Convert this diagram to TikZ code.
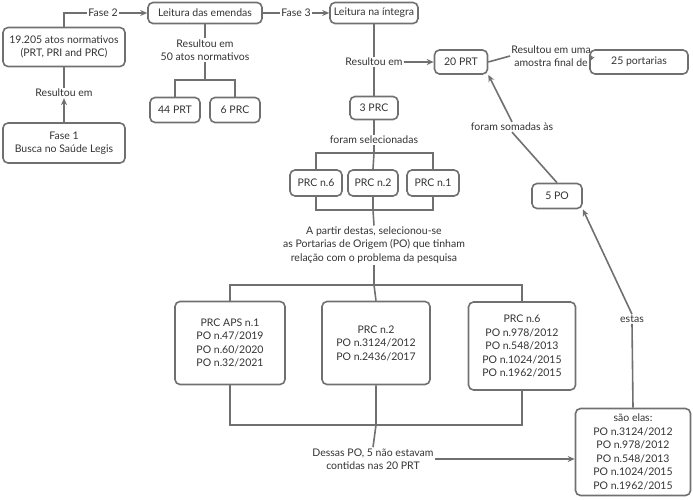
\documentclass[tikz,border=0pt]{standalone}
\usepackage{fontspec}
\setmainfont{Lato}
\usetikzlibrary{arrows.meta}
\definecolor{ln}{HTML}{707070}
\definecolor{tx}{HTML}{333333}
\begin{document}
\begin{tikzpicture}[x=1pt,y=-1pt,
 every node/.style={font=\fontsize{10.5}{13.5}\selectfont,text=tx},
 box/.style={draw=ln,line width=1.6pt,rounded corners=5pt,align=center,inner sep=3pt},
 lbl/.style={align=center,inner sep=1pt,fill=white},
 ln/.style={draw=ln,line width=1.6pt},
 ar/.style={ln,-{Stealth[length=7pt,width=6pt]}}]
\useasboundingbox (0,0) rectangle (693,500);
% nodes
\node[box,minimum width=122,minimum height=39] (a) at (64,47) {19.205 atos normativos\\(PRT, PRI and PRC)};
\node[box,minimum width=122,minimum height=40] (f1) at (64,143) {Fase 1\\Busca no Saúde Legis};
\node[lbl] (r1) at (64,93) {Resultou em};
\node[box,minimum width=114,minimum height=21] (le) at (205,13) {Leitura das emendas};
\node[box,minimum width=88,minimum height=21] (li) at (374,13) {Leitura na íntegra};
\node[lbl] (f2) at (103,13) {Fase 2};
\node[lbl] (f3) at (296,13) {Fase 3};
\node[lbl] (r2) at (205,50) {Resultou em\\50 atos normativos};
\node[box,minimum width=50,minimum height=25] (p44) at (175,110) {44 PRT};
\node[box,minimum width=50,minimum height=25] (p6) at (235,110) {6 PRC};
\node[lbl] (r3) at (374,62) {Resultou em};
\node[box,minimum width=48,minimum height=23] (c3) at (374,108) {3 PRC};
\node[box,minimum width=53,minimum height=24] (p20) at (461,62) {20 PRT};
\node[lbl] (r4) at (551,56) {Resultou em uma\\amostra final de};
\node[box,minimum width=98,minimum height=24] (p25) at (639,62) {25 portarias};
\node[lbl] (fs) at (374,140) {foram selecionadas};
\node[box,minimum width=52,minimum height=26] (n6) at (316,183) {PRC n.6};
\node[box,minimum width=50,minimum height=26] (n2) at (373,183) {PRC n.2};
\node[box,minimum width=52,minimum height=26] (n1) at (433,183) {PRC n.1};
\node[lbl] (ap) at (374,245) {A partir destas, selecionou-se\\as Portarias de Origem (PO) que tinham\\relação com o problema da pesquisa};
\node[box,minimum width=110,minimum height=83] (b1) at (230,343) {PRC APS n.1\\PO n.47/2019\\PO n.60/2020\\PO n.32/2021};
\node[box,minimum width=108,minimum height=83] (b2) at (376,343) {PRC n.2\\PO n.3124/2012\\PO n.2436/2017};
\node[box,minimum width=107,minimum height=88] (b3) at (522,346) {PRC n.6\\PO n.978/2012\\PO n.548/2013\\PO n.1024/2015\\PO n.1962/2015};
\node[lbl] (de) at (373,459) {Dessas PO, 5 não estavam\\contidas nas 20 PRT};
\node[box,minimum width=115,minimum height=87,inner sep=2pt] (se) at (633,452) {são elas:\\PO n.3124/2012\\PO n.978/2012\\PO n.548/2013\\PO n.1024/2015\\PO n.1962/2015};
\node[lbl] (es) at (632,319) {estas};
\node[box,minimum width=50,minimum height=25] (p5) at (557,196) {5 PO};
\node[lbl] (so) at (512,127) {foram somadas às};
% connectors
\draw[ar] (f1.north) -- (r1.south);
\draw[ln] (r1.north) -- (a.south);
\draw[ln] (a.north) |- (f2.west);
\draw[ar] (f2.east) -- (le.west);
\draw[ln] (le.east) -- (f3.west);
\draw[ar] (f3.east) -- (li.west);
\draw[ln] (le.south) -- (r2.north);
\draw[ln] (r2.south) -- (205,80) coordinate (j1);
\draw[ln] (p44.north) |- (j1) -| (p6.north);
\draw[ln] (li.south) -- (r3.north);
\draw[ar] (r3.east) -- (p20.west);
\draw[ln] (r3.south) -- (c3.north);
\draw[ln] (p20.east) -- (r4.west);
\draw[ar] (r4.east) -- (p25.west);
\draw[ln] (c3.south) -- (fs.north);
\draw[ln] (fs.south) -- (374,153) coordinate (j2);
\draw[ln] (n6.north) |- (j2) -| (n1.north);
\draw[ln] (j2) -- (n2.north);
\draw[ln] (n6.south) |- (373,210) coordinate (j3) -| (n1.south);
\draw[ln] (n2.south) -- (j3) -- (ap.north);
\draw[ln] (ap.south) -- (374,285) coordinate (j4);
\draw[ln] (b1.north) |- (j4) -| (b3.north);
\draw[ln] (j4) -- (b2.north);
\draw[ln] (b1.south) |- (376,425) coordinate (j5) -| (b3.south);
\draw[ln] (b2.south) -- (j5) -- (de.north);
\draw[ar] (de.east) -- (se.west |- de.east);
\draw[ln] (se.north) -- (es.south);
\draw[ar] (es.north) -- (p5.south east);
\draw[ln] (p5.north) -- (so.south);
\draw[ar] (so.north) -- (p20.south east);
\end{tikzpicture}
\end{document}
